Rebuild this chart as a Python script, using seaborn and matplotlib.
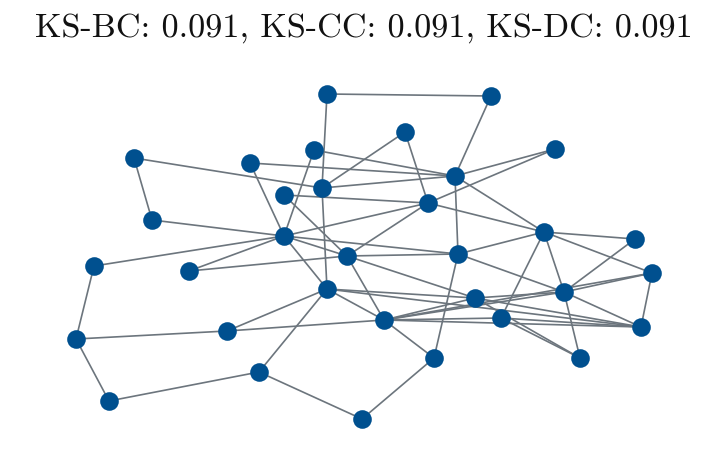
import matplotlib
matplotlib.use("Agg")
import matplotlib.pyplot as plt
import pandas as pd
import seaborn as sns

# node layout positions
node_x = [327, 491, 405, 134, 555, 250, 314, 455, 322, 284, 428,
          152, 284, 544, 635, 347, 458, 94, 189, 652, 327, 564,
          475, 384, 501, 641, 227, 76, 580, 434, 259, 109, 362]
node_y = [94, 96, 132, 158, 149, 163, 150, 176, 188, 195, 203,
          220, 236, 232, 239, 256, 254, 266, 271, 273, 289, 292,
          298, 320, 318, 327, 331, 339, 358, 358, 372, 401, 419]

edge_src = [1, 1, 2, 3, 3, 4, 4, 5, 5, 6, 6, 7, 7, 8, 8, 8, 9,
            10, 10, 11, 11, 11, 12, 13, 13, 13, 13, 13, 14, 14, 14,
            14, 14, 15, 16, 16, 16, 17, 17, 18, 19, 20, 20, 21, 21, 21,
            21, 21, 22, 22, 22, 22, 23, 23, 23, 24, 24, 24, 24, 24, 25,
            25, 27, 28, 30, 31, 31]
edge_dst = [2, 9, 8, 9, 11, 12, 9, 8, 11, 8, 13, 8, 13, 9, 14, 17, 21,
            11, 16, 14, 16, 13, 13, 16, 17, 18, 19, 21, 15, 17, 20,
            22, 25, 22, 17, 23, 24, 22, 30, 28, 16, 26, 24, 23, 24, 26,
            27, 31, 23, 26, 29, 20, 26, 29, 24, 25, 27, 30, 22, 26, 26,
            29, 28, 32, 33, 32, 33]

title = "KS-BC: 0.091, KS-CC: 0.091, KS-DC: 0.091"

node_color = "#00508f"
edge_color = "#6c757d"

sns.set_style("white")
plt.rcParams["font.family"] = ["cmr10", "DejaVu Serif"]
plt.rcParams["axes.formatter.use_mathtext"] = True

nodes = pd.DataFrame({"x": node_x, "y": node_y})
edges = pd.DataFrame({"src": edge_src, "dst": edge_dst}).drop_duplicates()

fig = plt.figure(figsize=(7.27, 4.68), dpi=100)
ax = fig.add_axes([0, 0, 1, 1])

for s, d in zip(edges.src, edges.dst):
    a, b = nodes.iloc[s - 1], nodes.iloc[d - 1]
    ax.plot([a.x, b.x], [a.y, b.y], color=edge_color, lw=1.2, zorder=1,
            solid_capstyle="round")

sns.scatterplot(data=nodes, x="x", y="y", ax=ax, s=180, color=node_color,
                edgecolor=node_color, linewidth=0, zorder=2, legend=False)

ax.set_xlim(0, 727)
ax.set_ylim(468, 0)
ax.axis("off")
fig.text(0.5, 1 - 28 / 468, title, ha="center", va="center", fontsize=24.6,
         color="#111111")

fig.savefig("out.png", dpi=100)
